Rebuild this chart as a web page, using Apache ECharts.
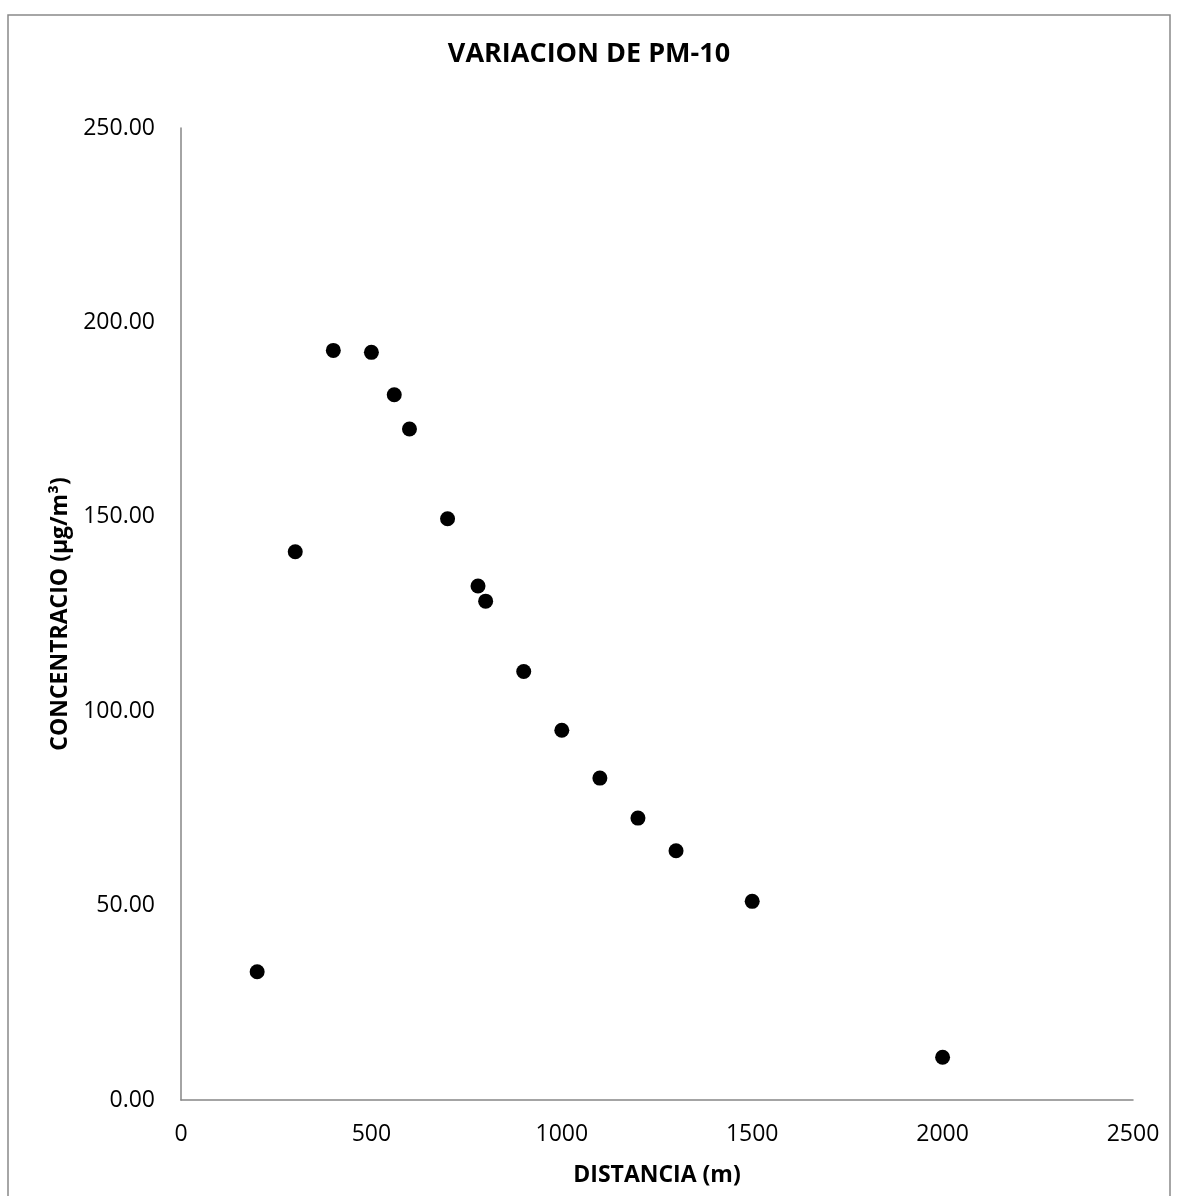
<!DOCTYPE html>
<html>
<head>
<meta charset="utf-8">
<script src="https://cdn.jsdelivr.net/npm/echarts@6/dist/echarts.min.js"></script>
<style>
  html, body { margin: 0; padding: 0; background: #fff; }
  #chart { width: 1178px; height: 1196px; }
</style>
</head>
<body>
<div id="chart"></div>
<script>
// distancia (m) y concentracion PM-10 (µg/m³)
const distancias = [200, 300, 400, 500, 560, 600, 700, 780, 800, 900, 1000, 1100, 1200, 1300, 1500, 2000];
const concentraciones = [33.0, 141.0, 192.8, 192.3, 181.4, 172.6, 149.5, 132.2, 128.3, 110.2, 95.1, 82.8, 72.5, 64.1, 51.1, 11.0];

const fontName = '"Open Sans", "Liberation Sans", sans-serif';

let puntos = distancias.map((d, i) => [d, concentraciones[i]]);

let chart = echarts.init(document.getElementById('chart'));
chart.setOption({
    backgroundColor: '#fff',
    animation: false,
    title: {
        text: 'VARIACION DE PM-10',
        left: 'center',
        top: 36,
        textStyle: { fontFamily: fontName, fontWeight: 'bold', fontSize: 27, color: '#000' }
    },
    graphic: [{
        type: 'rect',
        shape: { x: 8, y: 15, width: 1162, height: 1200 },
        style: { fill: 'none', stroke: '#898989', lineWidth: 1.5 },
        silent: true
    }],
    grid: { left: 181, top: 128, right: 45, bottom: 96 },
    xAxis: {
        type: 'value',
        min: 0,
        max: 2500,
        interval: 500,
        name: 'DISTANCIA (m)',
        nameLocation: 'middle',
        nameGap: 64,
        nameTextStyle: { fontFamily: fontName, fontWeight: 'bold', fontSize: 23, color: '#000' },
        axisLine: { show: true, lineStyle: { color: '#868686', width: 1.5 } },
        axisTick: { show: false },
        splitLine: { show: false },
        axisLabel: {
            fontFamily: fontName, fontSize: 23, color: '#000', margin: 23,
            formatter: v => String(v)
        }
    },
    yAxis: {
        type: 'value',
        min: 0,
        max: 250,
        interval: 50,
        name: 'CONCENTRACIO (µg/m³)',
        nameLocation: 'middle',
        nameRotate: 90,
        nameGap: 108,
        nameTextStyle: { fontFamily: fontName, fontWeight: 'bold', fontSize: 23, color: '#000' },
        axisLine: { show: true, lineStyle: { color: '#868686', width: 1.5 } },
        axisTick: { show: false },
        splitLine: { show: false },
        axisLabel: {
            fontFamily: fontName, fontSize: 23, color: '#000', margin: 26,
            formatter: v => v.toFixed(2)
        }
    },
    series: [{
        type: 'scatter',
        data: puntos,
        symbol: 'circle',
        symbolSize: 15,
        itemStyle: { color: '#000', opacity: 1 }
    }]
});
</script>
</body>
</html>
